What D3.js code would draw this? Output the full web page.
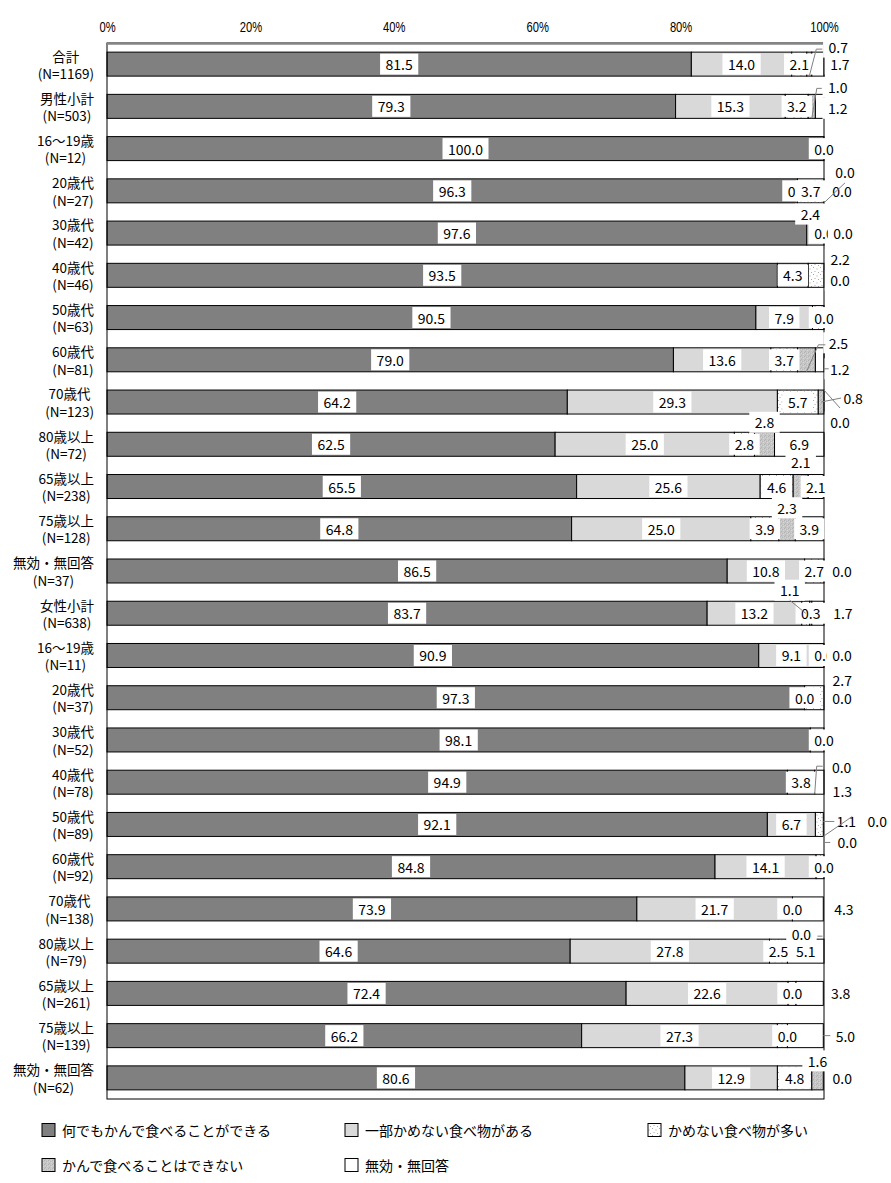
<!DOCTYPE html>
<html>
<head>
<meta charset="utf-8">
<script src="https://cdn.jsdelivr.net/npm/d3@7"></script>
<style>
  body { margin: 0; background: #fff; }
  svg { display: block; }
</style>
</head>
<body>
<svg id="chart" width="891" height="1183"></svg>
<script>
// ---- data -------------------------------------------------------------
const seriesNames = [
  "何でもかんで食べることができる",
  "一部かめない食べ物がある",
  "かめない食べ物が多い",
  "かんで食べることはできない",
  "無効・無回答"
];
const groupNames = [
  "合計", "男性小計", "16～19歳", "20歳代", "30歳代", "40歳代", "50歳代", "60歳代",
  "70歳代", "80歳以上", "65歳以上", "75歳以上", "無効・無回答",
  "女性小計", "16～19歳", "20歳代", "30歳代", "40歳代", "50歳代", "60歳代",
  "70歳代", "80歳以上", "65歳以上", "75歳以上", "無効・無回答"
];
const sampleSizes = [1169, 503, 12, 27, 42, 46, 63, 81, 123, 72, 238, 128, 37,
                     638, 11, 37, 52, 78, 89, 92, 138, 79, 261, 139, 62];
const canEatAll  = [81.5, 79.3, 100.0, 96.3, 97.6, 93.5, 90.5, 79.0, 64.2, 62.5, 65.5, 64.8, 86.5,
                    83.7, 90.9, 97.3, 98.1, 94.9, 92.1, 84.8, 73.9, 64.6, 72.4, 66.2, 80.6];
const someHard   = [14.0, 15.3, 0.0, 0.0, 2.4, 4.3, 7.9, 13.6, 29.3, 25.0, 25.6, 25.0, 10.8,
                    13.2, 9.1, 0.0, 1.9, 3.8, 6.7, 14.1, 21.7, 27.8, 22.6, 27.3, 12.9];
const manyHard   = [2.1, 3.2, 0.0, 3.7, 0.0, 2.2, 1.6, 3.7, 5.7, 2.8, 4.6, 3.9, 2.7,
                    1.1, 0.0, 2.7, 0.0, 0.0, 1.1, 1.1, 0.0, 2.5, 1.1, 1.4, 4.8];
const cannotChew = [0.7, 1.0, 0.0, 0.0, 0.0, 0.0, 0.0, 2.5, 0.8, 2.8, 2.1, 2.3, 0.0,
                    0.3, 0.0, 0.0, 0.0, 0.0, 0.0, 0.0, 0.0, 0.0, 0.0, 0.0, 1.6];
const noAnswer   = [1.7, 1.2, 0.0, 0.0, 0.0, 0.0, 0.0, 1.2, 0.0, 6.9, 2.1, 3.9, 0.0,
                    1.7, 0.0, 0.0, 0.0, 1.3, 0.0, 0.0, 4.3, 5.1, 3.8, 5.0, 0.0];
const tickValues = [0, 20, 40, 60, 80, 100];

// ---- label placement (offsets in px from the segment centre) -----------
const labelNudges = {
  "0-3": [29, -17], "0-4": [22, 0],
  "1-3": [26, -19], "1-4": [18, 2],
  "3-3": [21, -19], "3-4": [18, 0],
  "4-1": [-5, -19], "4-4": [19, 0],
  "5-2": [24, -16], "5-4": [16, 5],
  "7-3": [32, -17], "7-4": [20, 9],
  "8-3": [32, -4], "8-4": [16, 20],
  "9-3": [0, -22],
  "10-3": [0, -25],
  "11-3": [0, -21],
  "12-4": [18, 0],
  "13-2": [-16, -23], "13-4": [25, 0],
  "14-4": [18, 0],
  "15-2": [28, -18], "15-4": [18, 0],
  "17-3": [27, -15], "17-4": [23, 9],
  "18-2": [27, -3], "18-3": [54, -3], "18-4": [24, 18],
  "20-4": [36, 0],
  "21-3": [14, -17],
  "22-3": [-3.5, 0], "22-4": [31, 0],
  "23-4": [40, 0],
  "24-3": [0, -17], "24-4": [19, 0]
};
// labels that sit underneath another label with the same place
const coveredLabels = new Set([
  "2-1", "2-2", "2-3", "4-3", "5-3", "6-2", "6-3", "12-3", "14-3", "15-3",
  "16-1", "16-2", "16-3", "17-2", "19-2", "19-3", "20-3", "22-2", "23-2"
]);
// leader lines: start at the segment (bar edge) and run through points given
// relative to the label centre
const leaderLines = {
  "0-3": { from: "bottom", pts: [[-22, 2], [-16, 2]] },
  "1-3": { from: "bottom", pts: [[-21, 1], [-16, 1]] },
  "3-3": { from: "bottom", pts: [[0, 11]] },
  "7-3": { from: "bottom", pts: [[-20, 2], [-13, 2]] },
  "7-4": { from: null, pts: [[-16, 0], [-11, 0]] },
  "8-3": { from: "mid", pts: [[-12, 0]] },
  "8-4": { from: "top", pts: [[0, -14]] },
  "13-2": { from: "mid", pts: [[0, 10]] },
  "17-3": { from: "bottom", pts: [[-25, -1], [-19, -1]] },
  "18-2": { from: null, pts: [[-23, 0], [-12, 0]] },
  "18-3": { from: "bottom", pts: [[-25, -5]] },
  "18-4": { from: null, pts: [[-24, 0], [-17, 0]] },
  "21-3": { from: null, pts: [[16, 2], [21, 2]] },
  "23-4": { from: null, pts: [[-22, 0], [-15, 0]] }
};

// ---- setup --------------------------------------------------------------
const seriesValues = [canEatAll, someHard, manyHard, cannotChew, noAnswer];
const keys = d3.range(seriesNames.length);
const table = groupNames.map((g, i) => {
  const row = { index: i };
  keys.forEach(k => { row[k] = seriesValues[k][i]; });
  return row;
});

const svg = d3.select("#chart");
const jpFont = "'Noto Sans CJK JP', 'Noto Sans', sans-serif";

const x = d3.scaleLinear().domain([0, 100]).range([107, 824]);
const y = d3.scaleBand()
  .domain(d3.range(groupNames.length))
  .range([43, 1099])
  .paddingInner(0.432)
  .paddingOuter(0.216);
const bw = y.bandwidth();
const rowC = i => y(i) + bw / 2;

// fills and textures
const defs = svg.append("defs");
const dots = defs.append("pattern")
  .attr("id", "dotFill").attr("patternUnits", "userSpaceOnUse")
  .attr("width", 7).attr("height", 7);
dots.append("rect").attr("width", 7).attr("height", 7).attr("fill", "#fff");
[[1, 1], [4.5, 2.5], [2.5, 5], [6, 6]].forEach(p => {
  dots.append("rect").attr("x", p[0]).attr("y", p[1]).attr("width", 1).attr("height", 1).attr("fill", "#a8a8a8");
});
const mottle = defs.append("pattern")
  .attr("id", "mottleFill").attr("patternUnits", "userSpaceOnUse")
  .attr("width", 4).attr("height", 4);
mottle.append("rect").attr("width", 4).attr("height", 4).attr("fill", "#c6c6c6");
[[0, 0, "#b2b2b2"], [2, 1, "#b8b8b8"], [1, 3, "#b4b4b4"], [3, 2, "#d6d6d6"], [1, 1, "#d2d2d2"], [3, 0, "#d0d0d0"]]
  .forEach(p => {
    mottle.append("rect").attr("x", p[0]).attr("y", p[1]).attr("width", 1).attr("height", 1).attr("fill", p[2]);
  });
const fills = ["#808080", "#d9d9d9", "url(#dotFill)", "url(#mottleFill)", "#ffffff"];

// ---- bars -----------------------------------------------------------------
const stacked = d3.stack().keys(keys)(table);

const barLayer = svg.append("g");
stacked.forEach((layer, k) => {
  barLayer.append("g")
    .selectAll("rect")
    .data(layer)
    .join("rect")
    .attr("x", d => x(d[0]))
    .attr("y", (d, i) => y(i))
    .attr("width", d => Math.max(0, x(d[1]) - x(d[0])))
    .attr("height", bw)
    .attr("fill", fills[k])
    .attr("stroke", "#000")
    .attr("stroke-width", 1);
});

// plot frame
svg.append("rect")
  .attr("x", x(0)).attr("y", 43)
  .attr("width", x(100) - x(0)).attr("height", 1099 - 43)
  .attr("fill", "none").attr("stroke", "#000").attr("stroke-width", 1);
svg.append("line")
  .attr("x1", x(0)).attr("x2", x(100))
  .attr("y1", 43.5).attr("y2", 43.5)
  .attr("stroke", "#858585").attr("stroke-width", 2.5);

// ---- top axis -------------------------------------------------------------
const axis = svg.append("g")
  .attr("transform", "translate(0,43)")
  .call(d3.axisTop(x).tickValues(tickValues).tickFormat(d => d + "%").tickSize(0).tickPadding(11.5));
axis.select(".domain").remove();
axis.selectAll("text")
  .attr("fill", "#000")
  .attr("transform", "scale(0.8,1)")
  .style("font-family", "'Liberation Sans', Arial, sans-serif")
  .style("font-size", "14px");

// ---- category labels ---------------------------------------------------
const catLayer = svg.append("g").style("font-family", jpFont).style("font-size", "13.5px").attr("fill", "#000");
groupNames.forEach((name, i) => {
  const g = catLayer.append("g");
  const t1 = g.append("text").text(name).attr("dominant-baseline", "central").attr("y", rowC(i) - 8.6);
  const t2 = g.append("text").text("(N=" + sampleSizes[i] + ")").attr("dominant-baseline", "central").attr("y", rowC(i) + 8.7);
  const w = Math.max(t1.node().getComputedTextLength(), t2.node().getComputedTextLength());
  const cx = 94 - w / 2;
  t1.attr("x", cx).attr("text-anchor", "middle");
  t2.attr("x", cx).attr("text-anchor", "middle");
});

// ---- value labels ----------------------------------------------------------
const labelLayer = svg.append("g").style("font-family", jpFont).style("font-size", "14px");
const labelPos = {};
stacked.forEach((layer, k) => {
  layer.forEach((d, i) => {
    const key = i + "-" + k;
    const n = labelNudges[key] || [0, 0];
    const segCx = (x(d[0]) + x(d[1])) / 2;
    const lx = segCx + n[0];
    const ly = rowC(i) + n[1];
    labelPos[key] = { lx, ly, segCx, i };
    if (coveredLabels.has(key)) return;
    const g = labelLayer.append("g");
    const box = g.append("rect").attr("fill", "#fff");
    const t = g.append("text")
      .attr("x", lx).attr("y", ly)
      .attr("text-anchor", "middle")
      .attr("dominant-baseline", "central")
      .attr("fill", "#000")
      .text(seriesValues[k][i].toFixed(1));
    const w = t.node().getComputedTextLength();
    box.attr("x", lx - w / 2 - 5.5).attr("y", ly - 10.5).attr("width", w + 11).attr("height", 21);
  });
});

// ---- leader lines ------------------------------------------------------
const leaderLayer = svg.append("g");
Object.entries(leaderLines).forEach(([key, spec]) => {
  const p = labelPos[key];
  const pts = [];
  if (spec.from) {
    const yy = spec.from === "bottom" ? y(p.i) + bw : spec.from === "top" ? y(p.i) : rowC(p.i);
    pts.push([p.segCx, yy]);
  }
  spec.pts.forEach(q => pts.push([p.lx + q[0], p.ly + q[1]]));
  leaderLayer.append("path")
    .attr("d", d3.line()(pts))
    .attr("fill", "none")
    .attr("stroke", "#808080")
    .attr("stroke-width", 1);
});

// ---- legend ---------------------------------------------------------------
const legendCols = [42, 345, 648];
const legendRows = [1130, 1165];
const legend = svg.append("g").style("font-family", jpFont).style("font-size", "14px");
seriesNames.forEach((name, k) => {
  const lx = legendCols[k % 3];
  const ly = legendRows[Math.floor(k / 3)];
  legend.append("rect")
    .attr("x", lx).attr("y", ly - 6.5)
    .attr("width", 13).attr("height", 13)
    .attr("fill", fills[k]).attr("stroke", "#000").attr("stroke-width", 1);
  legend.append("text")
    .attr("x", lx + 20).attr("y", ly)
    .attr("dominant-baseline", "central")
    .attr("fill", "#000")
    .text(name);
});
</script>
</body>
</html>
